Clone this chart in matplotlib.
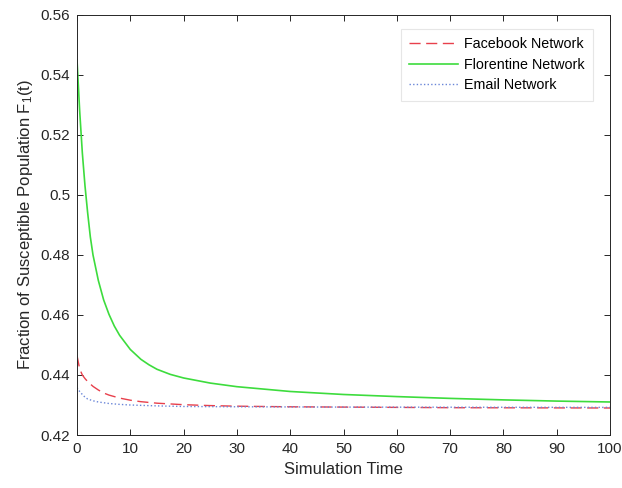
import matplotlib
matplotlib.use('Agg')
import matplotlib.pyplot as plt

plt.rcParams['font.family'] = ['Liberation Sans', 'DejaVu Sans']
plt.rcParams['mathtext.fontset'] = 'custom'
plt.rcParams['mathtext.rm'] = 'Liberation Sans'
plt.rcParams['mathtext.it'] = 'Liberation Sans'

# simulation time samples for each network curve
t_green = [0, 0.5, 1, 1.5, 2, 2.5, 3, 4, 5, 6, 7, 8, 10, 12, 13.5, 15, 17.5, 20, 25, 30,
           40, 50, 60, 70, 80, 90, 100]
florentine = [0.545, 0.528, 0.514, 0.503, 0.494, 0.486, 0.480, 0.4715, 0.4650,
              0.4602, 0.4563, 0.4532, 0.4485, 0.4452, 0.4434, 0.4419, 0.4402, 0.4390,
              0.4373, 0.4361, 0.4345, 0.4335, 0.4328, 0.4322, 0.4317, 0.4313, 0.4310]

t_red = [0, 0.5, 1, 1.5, 2, 3, 4, 5, 6, 8, 10, 12, 15, 20, 25, 30, 40, 50, 70, 100]
facebook = [0.4465, 0.4420, 0.4400, 0.4388, 0.4378, 0.4362, 0.4350, 0.4340, 0.4333,
            0.4323, 0.4316, 0.4311, 0.4306, 0.4301, 0.4298, 0.4296, 0.4294, 0.4293,
            0.4291, 0.4290]

t_blue = [0, 0.5, 1, 1.5, 2, 3, 4, 6, 8, 10, 15, 20, 30, 50, 100]
email = [0.4358, 0.4345, 0.4335, 0.4326, 0.4320, 0.4314, 0.4310, 0.4305, 0.4302,
         0.4300, 0.4297, 0.4295, 0.4294, 0.4293, 0.4292]

x_ticks = [0, 10, 20, 30, 40, 50, 60, 70, 80, 90, 100]
y_ticks = [0.42, 0.44, 0.46, 0.48, 0.5, 0.52, 0.54, 0.56]
y_labels = ['0.42', '0.44', '0.46', '0.48', '0.5', '0.52', '0.54', '0.56']

fig = plt.figure(figsize=(6.22, 4.88), dpi=100)
ax = fig.add_axes([0.1238, 0.1086, 0.857, 0.861])

ax.plot(t_red, facebook, color='#e8404c', lw=1.0, dashes=(8, 4), label='Facebook Network')
ax.plot(t_green, florentine, color='#3ddc3d', lw=1.2, label='Florentine Network')
ax.plot(t_blue, email, color='#6a86d8', lw=1.0, dashes=(1, 1.6), label='Email Network')

ax.set_xlim(0, 100)
ax.set_ylim(0.42, 0.56)
ax.set_xticks(x_ticks)
ax.set_yticks(y_ticks)
ax.set_yticklabels(y_labels)
ax.tick_params(direction='in', top=True, right=True, length=4, width=0.7,
               colors='#262626', labelsize=11, pad=5)
for s in ax.spines.values():
    s.set_color('#262626')
    s.set_linewidth(0.7)

ax.set_xlabel('Simulation Time', fontsize=12, color='#262626')
ax.set_ylabel('Fraction of Susceptible Population F$_1$(t)', fontsize=12, color='#262626')

leg = ax.legend(loc='upper right', bbox_to_anchor=(0.968, 0.967), borderaxespad=0,
                fontsize=10.3, handlelength=3.4, handletextpad=0.4, labelspacing=0.45,
                borderpad=0.6, fancybox=False, framealpha=1)
leg.get_frame().set_edgecolor('#e6e6e6')
leg.get_frame().set_linewidth(0.8)

fig.savefig('out.png', dpi=100)
